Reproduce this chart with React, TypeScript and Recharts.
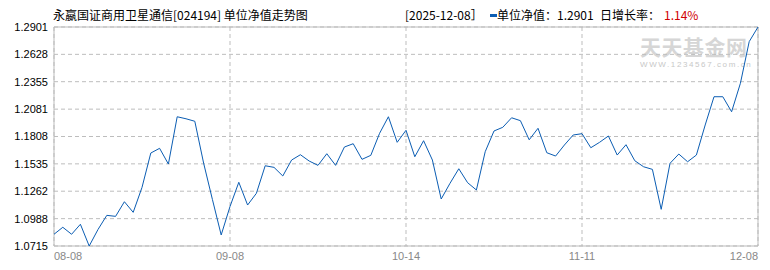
import React from "react";
import { LineChart, Line, XAxis, YAxis, CartesianGrid, ReferenceArea } from "recharts";

const navValues = [
  1.0832, 1.0902, 1.0832, 1.0932, 1.0715, 1.088, 1.1021, 1.1011, 1.1157, 1.1051,
  1.13, 1.1643, 1.169, 1.1533, 1.2005, 1.1985, 1.196, 1.1543, 1.118, 1.0825,
  1.1109, 1.1351, 1.1124, 1.1241, 1.1516, 1.15, 1.1414, 1.1573, 1.1626, 1.1563,
  1.152, 1.1636, 1.152, 1.1703, 1.1736, 1.158, 1.162, 1.184, 1.2005, 1.175,
  1.187, 1.1606, 1.1766, 1.1573, 1.1184, 1.1341, 1.1486, 1.1347, 1.1274, 1.1656,
  1.1863, 1.19, 1.1995, 1.1966, 1.1775, 1.189, 1.1646, 1.1613, 1.1723, 1.1823,
  1.1836, 1.1696, 1.175, 1.1813, 1.1623, 1.1726, 1.1566, 1.1506, 1.148, 1.1081,
  1.154, 1.1633, 1.1556, 1.1623, 1.1923, 1.2205, 1.2205, 1.2055, 1.2339, 1.2755,
  1.2901,
];

const tickIndex = [0, 20, 40, 60, 80];
const tickLabels = ["08-08", "09-08", "10-14", "11-11", "12-08"];
const yTicks = [1.0715, 1.0988, 1.1262, 1.1535, 1.1808, 1.2081, 1.2355, 1.2628, 1.2901];

const data = navValues.map((v, i) => ({ i, nav: v }));

const GRID = "#bdbdbd";
const BLUE = "#0b5db3";

const XTick = (props: any) => {
  const { x, y, payload } = props;
  const idx = tickIndex.indexOf(payload.value);
  const anchor = idx === 0 ? "start" : idx === tickIndex.length - 1 ? "end" : "middle";
  return (
    <text x={x} y={y + 14} textAnchor={anchor} fill="#888" fontSize={11} fontFamily="Liberation Sans, Arial, sans-serif">
      {tickLabels[idx]}
    </text>
  );
};

export default function App() {
  return (
    <div style={{ position: "relative", width: 770, height: 270, background: "#fff", fontFamily: "'Noto Sans CJK SC', sans-serif" }}>
      <style>{"body{margin:0}"}</style>
      <div style={{ position: "absolute", left: 53, top: 7, fontSize: 12, lineHeight: "16px", color: "#000", whiteSpace: "nowrap" }}>
        永嬴国证商用卫星通信[024194] 单位净值走势图
      </div>
      <div style={{ position: "absolute", left: 405, top: 7, fontSize: 12, lineHeight: "16px", color: "#000", whiteSpace: "nowrap" }}>
        [2025-12-08］
      </div>
      <div style={{ position: "absolute", left: 490, top: 14, width: 7, height: 3, background: BLUE }} />
      <div style={{ position: "absolute", left: 497, top: 7, fontSize: 12, lineHeight: "16px", color: "#000", whiteSpace: "nowrap" }}>
        单位净值：1.2901
      </div>
      <div style={{ position: "absolute", left: 600, top: 7, fontSize: 12, lineHeight: "16px", color: "#000", whiteSpace: "nowrap" }}>
        日增长率：
      </div>
      <div style={{ position: "absolute", left: 664, top: 7, fontSize: 12, lineHeight: "16px", color: "#d00000", whiteSpace: "nowrap" }}>
        1.14%
      </div>
      <div style={{ position: "absolute", left: 640, top: 35, fontSize: 21, fontWeight: 700, color: "#d6d6d6", letterSpacing: 0.5, lineHeight: "22px", whiteSpace: "nowrap" }}>
        天天基金网
      </div>
      <div style={{ position: "absolute", left: 640, top: 60, fontSize: 8, color: "#c8c8c8", letterSpacing: 1.6, lineHeight: "9px", fontFamily: "Liberation Sans, Arial, sans-serif", whiteSpace: "nowrap" }}>
        WWW.1234567.com.cn
      </div>
      <div style={{ position: "absolute", left: 0, top: 0 }}>
        <LineChart width={770} height={270} data={data} margin={{ top: 27, right: 12, bottom: 0, left: 0 }}>
          <CartesianGrid stroke={GRID} strokeDasharray="4 3" />
          <XAxis
            dataKey="i"
            type="number"
            domain={[0, 80]}
            ticks={tickIndex}
            tick={<XTick />}
            tickLine={false}
            axisLine={false}
            tickSize={0}
            tickMargin={0}
            height={24}
            interval={0}
          />
          <YAxis
            domain={[1.0715, 1.2901]}
            ticks={yTicks}
            tickFormatter={(v: number) => v.toFixed(4)}
            tick={{ fill: "#000", fontSize: 11, fontFamily: "Liberation Sans, Arial, sans-serif" }}
            tickLine={false}
            axisLine={false}
            tickSize={0}
            tickMargin={6}
            width={54}
            interval={0}
            allowDataOverflow
          />
          <ReferenceArea x1={0} x2={80} y1={1.0715} y2={1.2901} fill="none" stroke="#bbbbbb" strokeWidth={1} ifOverflow="visible" />
          <Line type="linear" dataKey="nav" stroke={BLUE} strokeWidth={1} dot={false} isAnimationActive={false} />
        </LineChart>
      </div>
    </div>
  );
}
